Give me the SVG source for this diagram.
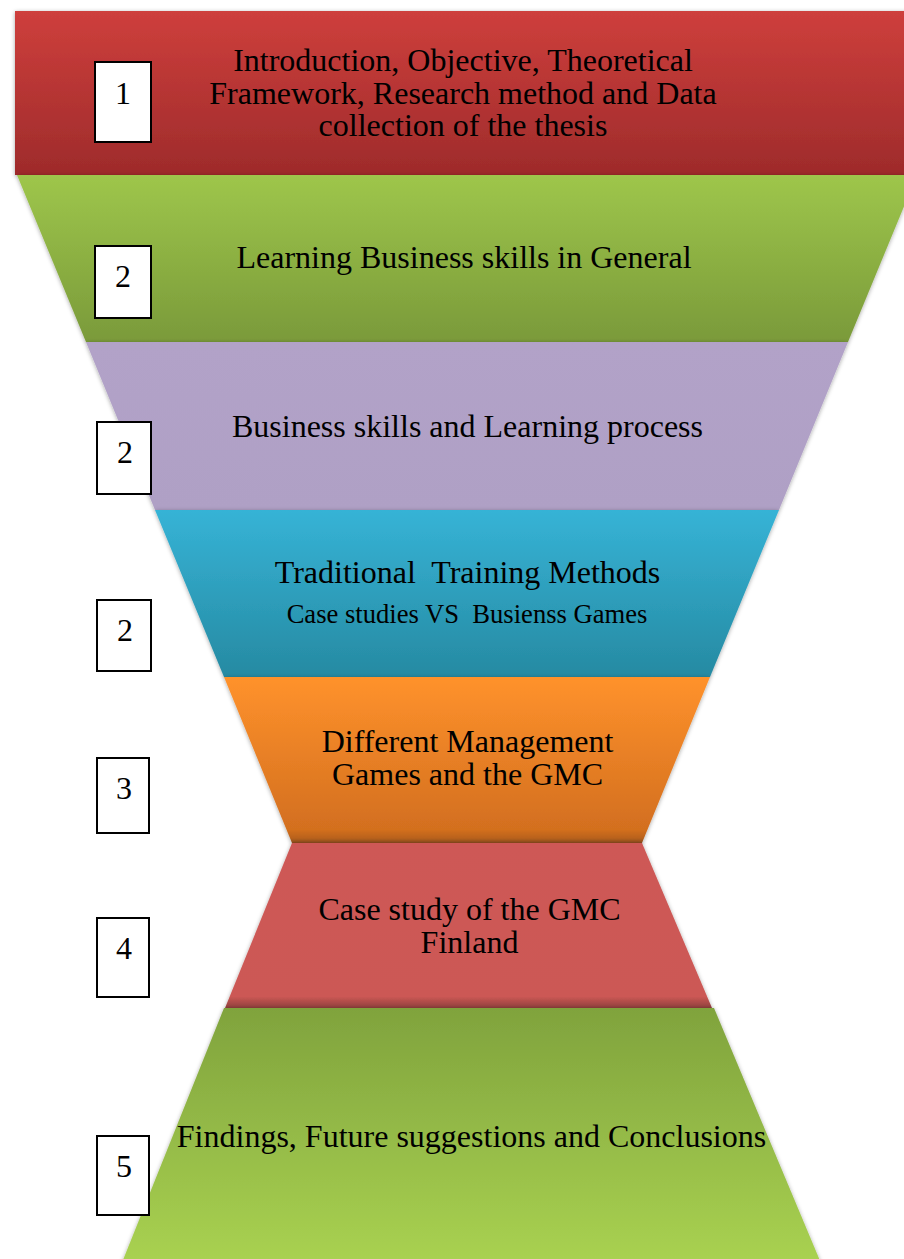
<svg xmlns="http://www.w3.org/2000/svg" width="904" height="1259" viewBox="0 0 904 1259">
<defs>
<linearGradient id="gRed" x1="0" y1="0" x2="0" y2="1"><stop offset="0" stop-color="#CE3F3C"/><stop offset="1" stop-color="#9E2B2B"/></linearGradient>
<linearGradient id="gGreen1" x1="0" y1="0" x2="0" y2="1"><stop offset="0" stop-color="#9EC64B"/><stop offset="1" stop-color="#7A9A3A"/></linearGradient>
<linearGradient id="gPurple" x1="0" y1="0" x2="0" y2="1"><stop offset="0" stop-color="#B2A2C8"/><stop offset="1" stop-color="#AFA0C5"/></linearGradient>
<linearGradient id="gBlue" x1="0" y1="0" x2="0" y2="1"><stop offset="0" stop-color="#36B3D6"/><stop offset="1" stop-color="#268AA2"/></linearGradient>
<linearGradient id="gOrange" x1="0" y1="0" x2="0" y2="1"><stop offset="0" stop-color="#FF922C"/><stop offset="0.92" stop-color="#D36F1F"/><stop offset="0.97" stop-color="#B9621C"/><stop offset="1" stop-color="#8A4A1C"/></linearGradient>
<linearGradient id="gRed2" x1="0" y1="0" x2="0" y2="1"><stop offset="0" stop-color="#CE5956"/><stop offset="0.93" stop-color="#CC5855"/><stop offset="1" stop-color="#8F3F3C"/></linearGradient>
<linearGradient id="gGreen2" x1="0" y1="0" x2="0" y2="1"><stop offset="0" stop-color="#80A33D"/><stop offset="1" stop-color="#ABD452"/></linearGradient>
<filter id="sh" x="-5%" y="-5%" width="110%" height="110%"><feDropShadow dx="0" dy="1" stdDeviation="2" flood-color="#000" flood-opacity="0.35"/></filter>
</defs>
<style>
.t{font-family:"Liberation Serif","Times New Roman",serif;font-size:32px;fill:#000;text-anchor:middle}
.s{font-size:26.6px}
.box{fill:#fff;stroke:#000;stroke-width:2}
</style>
<g id="band1">
<rect x="15" y="11" width="900" height="164" fill="url(#gRed)" filter="url(#sh)"/>
<text class="t" x="463" y="71">Introduction, Objective, Theoretical</text>
<text class="t" x="463" y="103.5">Framework, Research method and Data</text>
<text class="t" x="463" y="136">collection of the thesis</text>
</g>
<g id="band2">
<polygon points="17,175 917,175 848,342 86,342" fill="url(#gGreen1)" filter="url(#sh)"/>
<text class="t" x="464" y="268">Learning Business skills in General</text>
</g>
<g id="band3">
<polygon points="86,342 848,342 779,510 155,510" fill="url(#gPurple)" filter="url(#sh)"/>
<text class="t" x="467.5" y="437">Business skills and Learning process</text>
</g>
<g id="band4">
<polygon points="155,510 779,510 710,677 224,677" fill="url(#gBlue)" filter="url(#sh)"/>
<text class="t" x="467.5" y="583" xml:space="preserve">Traditional  Training Methods</text>
<text class="t s" x="467" y="623" xml:space="preserve">Case studies VS  Busienss Games</text>
</g>
<g id="band5">
<polygon points="224,677 710,677 642,843 292,843" fill="url(#gOrange)" filter="url(#sh)"/>
<text class="t" x="467.5" y="752">Different Management</text>
<text class="t" x="467.5" y="785">Games and the GMC</text>
</g>
<g id="band6">
<polygon points="292,843 642,843 712,1008 225,1008" fill="url(#gRed2)" filter="url(#sh)"/>
<text class="t" x="469.5" y="920">Case study of the GMC</text>
<text class="t" x="469.5" y="953">Finland</text>
</g>
<g id="band7">
<polygon points="224,1008 714,1008 826,1275 117,1275" fill="url(#gGreen2)" filter="url(#sh)"/>
<text class="t" x="471.5" y="1147">Findings, Future suggestions and Conclusions</text>
</g>
<g id="connectors"></g>
<g id="num1"><rect class="box" x="95" y="62" width="56" height="80"/><text class="t" x="123" y="104">1</text></g>
<g id="num2a"><rect class="box" x="95" y="246" width="56" height="72"/><text class="t" x="123" y="287">2</text></g>
<g id="num2b"><rect class="box" x="97" y="422" width="54" height="72"/><text class="t" x="125" y="463">2</text></g>
<g id="num2c"><rect class="box" x="97" y="600" width="54" height="71"/><text class="t" x="125" y="641">2</text></g>
<g id="num3"><rect class="box" x="97" y="758" width="52" height="75"/><text class="t" x="124" y="799">3</text></g>
<g id="num4"><rect class="box" x="97" y="918" width="52" height="79"/><text class="t" x="124" y="959">4</text></g>
<g id="num5"><rect class="box" x="97" y="1136" width="52" height="79"/><text class="t" x="124" y="1177">5</text></g>
</svg>
